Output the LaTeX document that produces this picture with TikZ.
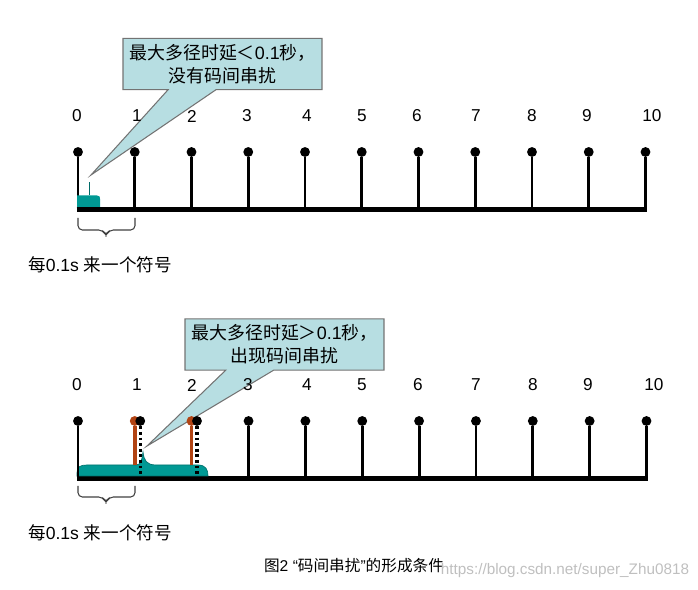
\documentclass[tikz,border=0pt]{standalone}
\usepackage{fontspec}
\setmainfont{Liberation Sans}
\newfontfamily\cjk{Noto Sans CJK SC}
\usepackage{tikz}
\usetikzlibrary{shapes.callouts}
\definecolor{pulse}{RGB}{0,153,148}
\definecolor{bubble}{RGB}{183,222,226}
\definecolor{echo}{RGB}{178,68,20}

\begin{document}
\begin{tikzpicture}[
    x=0.02cm, y=-0.02cm,
    num/.style={font=\fontsize{9.8}{11}\selectfont, inner sep=0pt},
    note/.style={font=\fontsize{10}{12}\selectfont, inner sep=0pt},
    dot/.style={circle, fill=black, inner sep=0pt, minimum size=5.6pt},
    stem/.style={line width=1.6pt},
    base/.style={line width=3pt},
    span/.style={draw=black!75, line width=0.6pt, rounded corners=2.5pt},
    bubble/.style={
        rectangle callout,
        draw=black!55,
        fill=bubble,
        line width=0.6pt,
        minimum width=3.98cm,
        minimum height=1.02cm,
        callout pointer width=0.96cm,
        align=center,
        font=\fontsize{10.2}{13}\selectfont
    }
]
\useasboundingbox (0,0) rectangle (698,590);

% Top: delay below 0.1 s
\node[bubble, callout absolute pointer={(91,175)}] (calm) at (222.5,64)
    {{\cjk 最大多径时延＜}0.1{\cjk 秒，}\\{\cjk 没有码间串扰}};

\foreach \i/\lx in {0/77,1/137,2/192,3/247,4/307,5/362,6/417,7/476,8/532,9/587,10/652}
    \node[num] (tl\i) at (\lx,116) {\i};

\foreach \i in {0,...,10} {
    \coordinate (tb\i) at ({78+56.75*\i},209.5);
    \node[dot] (td\i) at ({78+56.75*\i},152) {};
    \draw[stem] (td\i) -- (tb\i);
}
\draw[base] ([xshift=-0.8pt]tb0) -- ([xshift=0.8pt]tb10);

% Received pulse
\fill[pulse] (77,207) -- (77,195.5) -- (97,195.5)
    .. controls (100,195.5) and (100,197) .. (100,199) -- (100,207) -- cycle;
\draw[pulse!70!black, line width=0.5pt] (89,195.5) -- (89,182);

\draw[span] (78,218) -- (78,230) -- (103,230) -- (106,236)
    -- (109,230) -- (135,230) -- (135,218);
\node[note] (ttxt) at (100,265) {{\cjk 每}0.1s {\cjk 来一个符号}};

% Bottom: delay above 0.1 s
\node[bubble, callout absolute pointer={(147,446)}] (isi) at (284.5,344.5)
    {{\cjk 最大多径时延＞}0.1{\cjk 秒，}\\{\cjk 出现码间串扰}};

\foreach \i/\lx in {0/77,1/137,2/192,3/248,4/307,5/362,6/418,7/476,8/533,9/588,10/654}
    \node[num] (bl\i) at (\lx,385) {\i};

\foreach \i in {0,...,10}
    \coordinate (bb\i) at ({78+56.85*\i},478.5);
\draw[base] ([xshift=-0.8pt]bb0) -- ([xshift=0.8pt]bb10);

% Spread pulse
\fill[pulse, draw=pulse!75!black, line width=0.4pt] (77,476) -- (77,473)
    .. controls (77,467) and (80,465) .. (87,465) -- (136,465)
    .. controls (141,465) and (142,460) .. (143,452)
    .. controls (144,460) and (146,465) .. (156,465) -- (198,465)
    .. controls (206,465) and (208,470) .. (208,476) -- cycle;

% Original symbol positions
\foreach \i in {1,2} {
    \node[dot, fill=echo] (be\i) at ({78+56.75*\i},421) {};
    \draw[stem, echo, line width=2pt] (be\i) -- ({78+56.75*\i},465);
}

% Delayed symbols
\foreach \i in {1,2} {
    \node[dot] (bd\i) at ({83.5+56.75*\i},421) {};
    \draw[stem, line width=1.9pt, dash pattern=on 1.6pt off 1.6pt] (bd\i) -- ({83.5+56.75*\i},478.5);
}

\foreach \i in {0,3,4,5,6,7,8,9,10} {
    \node[dot] (bs\i) at ({78+56.85*\i},421) {};
    \draw[stem] (bs\i) -- (bb\i);
}

\draw[span] (78,486) -- (78,497) -- (103,497) -- (106,503)
    -- (109,497) -- (135,497) -- (135,486);
\node[note] (btxt) at (100,533) {{\cjk 每}0.1s {\cjk 来一个符号}};

% Caption
\node[font=\fontsize{8.9}{11}\selectfont, inner sep=0pt] (capt) at (354,566)
    {{\cjk 图}2 “{\cjk 码间串扰}”{\cjk 的形成条件}};
\node[font=\fontsize{8.7}{11}\selectfont, text=black!25, inner sep=0pt] (wmark) at (565,571)
    {https://blog.csdn.net/super\_Zhu0818};

\end{tikzpicture}
\end{document}
